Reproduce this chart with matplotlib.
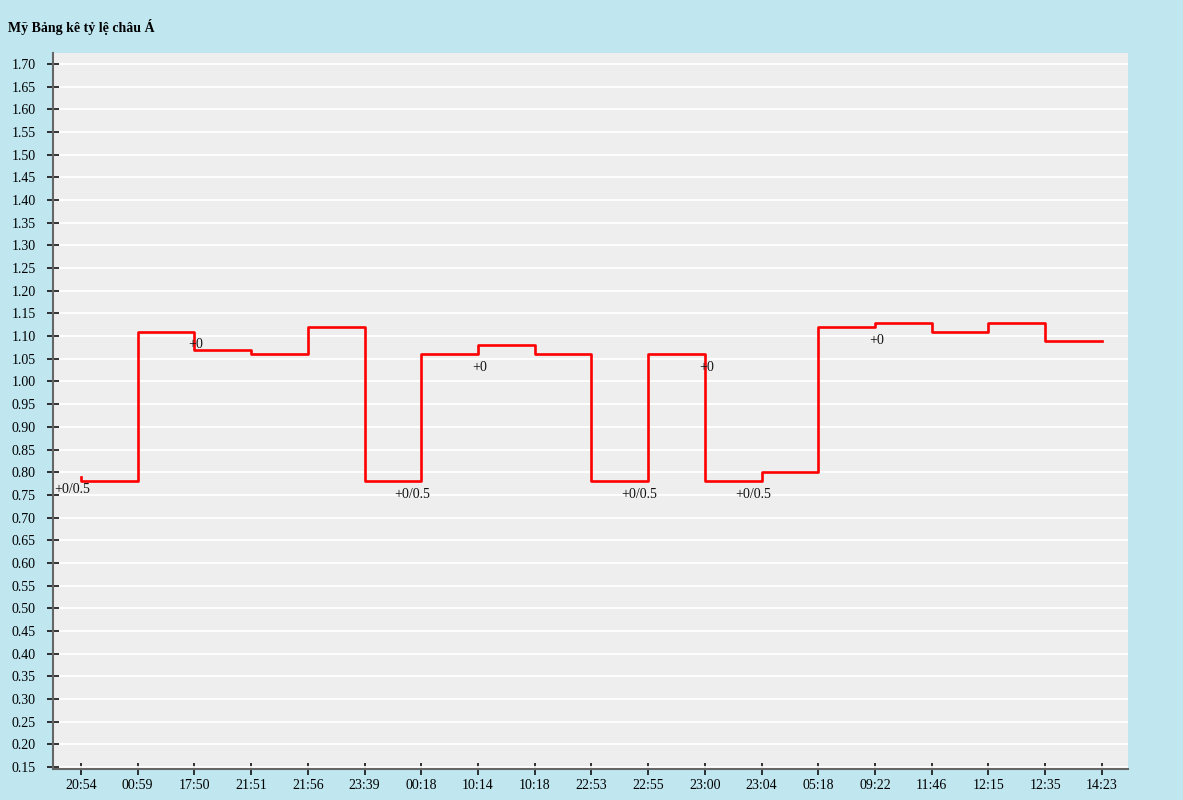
import matplotlib
matplotlib.use('Agg')
import matplotlib.pyplot as plt
import numpy as np

# time labels along the x axis
times = ['20:54', '00:59', '17:50', '21:51', '21:56', '23:39', '00:18', '10:14', '10:18',
         '22:53', '22:55', '23:00', '23:04', '05:18', '09:22', '11:46', '12:15', '12:35', '14:23']
# odds values (step drawn "pre": value i spans times[i-1] -> times[i])
odds = [0.79, 0.78, 1.11, 1.07, 1.06, 1.12, 0.78, 1.06, 1.08, 1.06,
        0.78, 1.06, 0.78, 0.80, 1.12, 1.13, 1.11, 1.13, 1.09]
# handicap labels at change points
label_idx = [0, 2, 6, 7, 10, 11, 12, 14]
label_txt = ['+0/0.5', '+0', '+0/0.5', '+0', '+0/0.5', '+0', '+0/0.5', '+0']

title = 'Mỹ Bảng kê tỷ lệ châu Á'

plt.rcParams['font.family'] = ['Liberation Serif', 'DejaVu Serif']

bg = '#c0e6f0'
fig = plt.figure(figsize=(11.83, 8), dpi=100, facecolor=bg)
ax = fig.add_axes([53 / 1183, 1 - 769 / 800, (1128 - 53) / 1183, (769 - 53) / 800])
ax.set_facecolor('#eeeeee')

x = np.arange(len(times))
ax.plot(x, odds, drawstyle='steps-pre', color='#ff0000', lw=1.9, zorder=3)

for i, t in zip(label_idx, label_txt):
    ax.annotate(t, (x[i], odds[i]), xytext=(6.5, -9.4), textcoords='offset points',
                ha='right', va='center', fontsize=10, color='#111111', zorder=4)

yt = np.round(np.arange(0.15, 1.701, 0.05), 2)
ax.set_yticks(yt)
ax.set_yticklabels([f'{v:.2f}' for v in yt])
ax.set_ylim(0.1456, 1.7242)
ax.set_xticks(x)
ax.set_xticklabels(times)
ax.set_xlim(-0.494, 18.46)

ax.grid(axis='y', color='white', lw=1.3, zorder=1)
ax.set_axisbelow(True)
for s in ['top', 'right']:
    ax.spines[s].set_visible(False)
for s in ['left', 'bottom']:
    ax.spines[s].set_color('#666666')
    ax.spines[s].set_linewidth(1.5)

ax.tick_params(axis='y', direction='inout', length=9, width=1.2, color='#111111',
               labelsize=10, pad=8)
ax.tick_params(axis='x', direction='inout', length=8, width=1.2, color='#111111',
               labelsize=10, pad=3)

fig.text(8 / 1183, 1 - 27 / 800, title, fontsize=10, fontweight='bold', va='center', ha='left')

fig.savefig('out.png', dpi=100, facecolor=bg)
